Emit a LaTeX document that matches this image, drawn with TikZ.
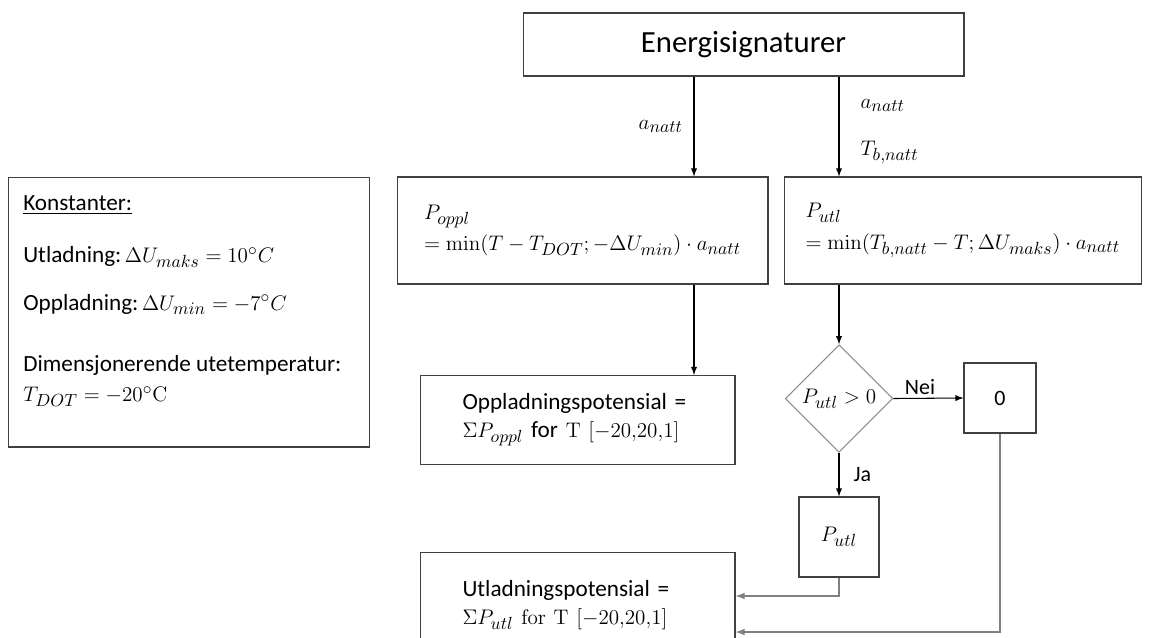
\documentclass[tikz,border=0pt]{standalone}
\usepackage{amsmath}
\usepackage[no-math]{fontspec}
\setmainfont{Carlito}
\DeclareMathSizes{13.2}{13.2}{10}{7.5}
\usetikzlibrary{positioning, arrows, shapes.geometric}

\begin{document}
\begin{tikzpicture}[x=0.02cm, y=-0.02cm, >=latex,
	box/.style={draw=black!75, line width=0.6pt, rectangle, inner sep=0pt, font=\fontsize{13.2}{16}\selectfont},
	decision/.style={draw=black!45, line width=0.6pt, diamond, aspect=1, inner sep=0pt, minimum size=2.15cm, font=\fontsize{13.2}{16}\selectfont},
	lbl/.style={inner sep=0pt, font=\fontsize{13.2}{16}\selectfont},
	small/.style={inner sep=2pt, font=\fontsize{12.5}{15}\selectfont},
	flow/.style={->, line width=0.6pt, black},
	back/.style={->, line width=0.8pt, black!50}]
	\useasboundingbox (0,0) rectangle (1151,637);
	
	\node[box, minimum width=8.82cm, minimum height=1.26cm, font=\fontsize{17.5}{21}\selectfont] (energi) at (743.5,44.5) {Energisignaturer};
	
	\node[box, minimum width=7.24cm, minimum height=5.4cm] (konst) at (189,312) {};
	\node[lbl, anchor=north west, align=left] (konsttxt) at (23,195) {\underline{Konstanter:}\\[14pt]
		Utladning:$\,\Delta U_{maks} = 10^\circ C$\\[11pt]
		Oppladning:$\,\Delta U_{min} = -7^\circ C$\\[19pt]
		Dimensjonerende utetemperatur:\\[1pt]
		$T_{DOT} = -20^\circ\mathrm{C}$};
	
	\node[box, minimum width=7.42cm, minimum height=2.14cm, align=left] (oppl) at (582.5,230.5) {$P_{oppl}$\\[2pt]$= \min(T - T_{DOT}; -\Delta U_{min}) \cdot a_{natt}$};
	\node[box, anchor=west, inner xsep=0.42cm, minimum height=2.14cm, align=left] (utl) at (784,230.5) {$P_{utl}$\\[2pt]$= \min(T_{b,natt} - T; \Delta U_{maks}) \cdot a_{natt}$};
	
	\node[box, minimum width=6.3cm, minimum height=1.78cm, text width=4.6cm, align=left] (opot) at (577.5,420) {Oppladningspotensial =\\$\Sigma P_{oppl}$ for $\mathrm{T}\ [-20{,}20{,}1]$};
	\node[box, minimum width=6.3cm, minimum height=2.1cm, text width=4.6cm, align=left] (upot) at (577.5,605) {Utladningspotensial =\\$\Sigma P_{utl}\ \mathrm{for\ T}\ [-20{,}20{,}1]$};
	
	\node[decision] (dec) at (839,398.5) {$P_{utl} > 0$};
	\node[box, minimum width=1.44cm, minimum height=1.4cm, font=\fontsize{12.5}{15}\selectfont] (zero) at (1000,398) {0};
	\node[box, minimum width=1.6cm, minimum height=1.6cm] (putl) at (839,537) {$P_{utl}$};
	
	\coordinate (ax) at (694,0);
	\coordinate (r1) at (0,596);
	\coordinate (r2) at (0,632);
	
	\draw[flow] (energi.south -| ax) -- node[lbl, left=6pt] {$a_{natt}$} (oppl.north -| ax);
	\draw[flow] (energi.south -| dec) -- node[lbl, pos=0.29, right=12pt] {$a_{natt}$} node[lbl, pos=0.76, right=12pt] {$T_{b,natt}$} (utl.north -| dec);
	\draw[flow] (oppl.south -| ax) -- (opot.north -| ax);
	\draw[flow] (utl.south -| dec) -- (dec.north);
	\draw[flow] (dec.east) -- node[small, above, pos=0.38] {Nei} (zero.west);
	\draw[flow] (dec.south) -- node[small, right=6pt] {Ja} (putl.north);
	\draw[back] (putl.south) |- (upot.east |- r1);
	\draw[back] (zero.south) |- (upot.east |- r2);
\end{tikzpicture}
\end{document}
